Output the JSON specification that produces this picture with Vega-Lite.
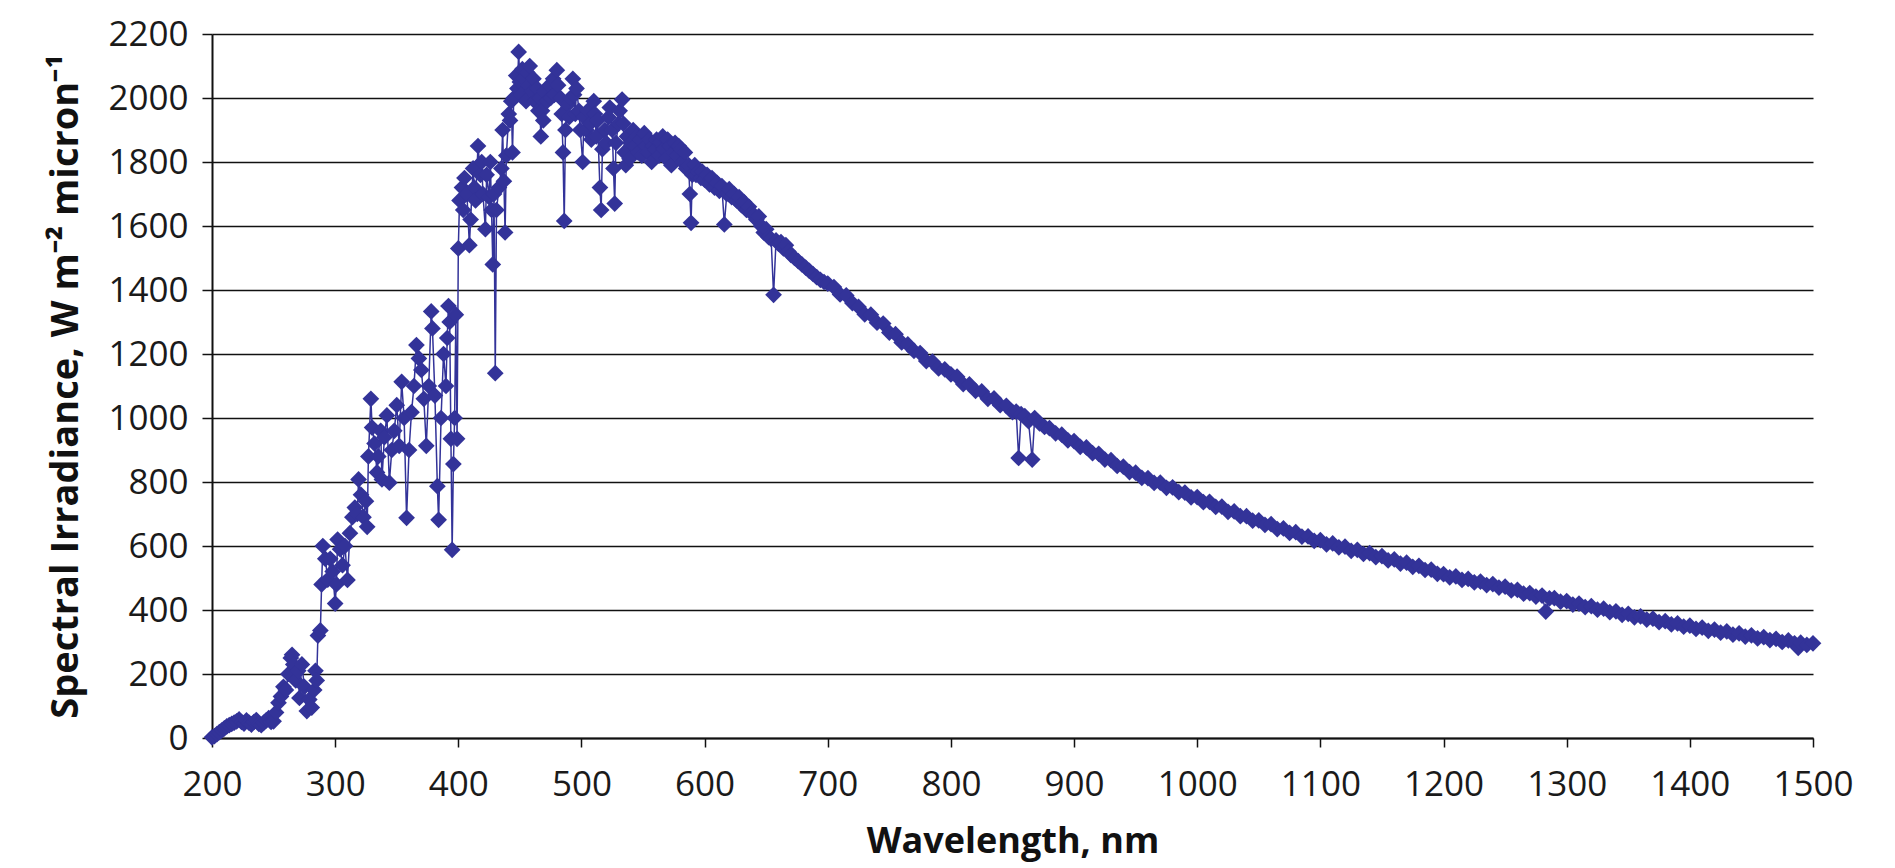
{
"$schema": "https://vega.github.io/schema/vega-lite/v6.json",
"width": 1601,
"height": 704,
"autosize": {"type": "none"},
"padding": {"left": 212, "top": 34, "right": 82, "bottom": 130},
"background": "white",
"config": {"view": {"stroke": null}, "font": "Open Sans"},
"data": {"values": [
{"wl":200,"irr":2},{"wl":202,"irr":6},{"wl":204,"irr":12},{"wl":206,"irr":18},{"wl":208,"irr":24},{"wl":210,"irr":30},{"wl":212,"irr":36},{"wl":214,"irr":40},{"wl":216,"irr":44},{"wl":218,"irr":48},{"wl":220,"irr":52},{"wl":222,"irr":58},{"wl":224,"irr":50},{"wl":226,"irr":45},{"wl":228,"irr":55},{"wl":230,"irr":48},{"wl":232,"irr":42},{"wl":234,"irr":50},{"wl":236,"irr":56},{"wl":238,"irr":44},{"wl":240,"irr":40},{"wl":242,"irr":48},{"wl":244,"irr":55},{"wl":246,"irr":62},{"wl":248,"irr":50},{"wl":250,"irr":52},{"wl":252,"irr":80},{"wl":254,"irr":110},{"wl":256,"irr":130},{"wl":258,"irr":160},{"wl":260,"irr":150},{"wl":262,"irr":200},{"wl":264,"irr":250},{"wl":265,"irr":260},{"wl":266,"irr":230},{"wl":268,"irr":180},{"wl":270,"irr":210},{"wl":271,"irr":125},{"wl":273,"irr":230},{"wl":275,"irr":160},{"wl":277,"irr":84},{"wl":279,"irr":120},{"wl":281,"irr":95},{"wl":283,"irr":150},{"wl":284,"irr":210},{"wl":285,"irr":180},{"wl":286,"irr":320},{"wl":288,"irr":336},{"wl":289,"irr":480},{"wl":290,"irr":600},{"wl":292,"irr":560},{"wl":294,"irr":495},{"wl":296,"irr":560},{"wl":298,"irr":520},{"wl":300,"irr":420},{"wl":301,"irr":480},{"wl":302,"irr":620},{"wl":304,"irr":590},{"wl":306,"irr":540},{"wl":308,"irr":600},{"wl":310,"irr":494},{"wl":312,"irr":640},{"wl":314,"irr":690},{"wl":316,"irr":720},{"wl":318,"irr":700},{"wl":319,"irr":808},{"wl":321,"irr":760},{"wl":323,"irr":690},{"wl":325,"irr":740},{"wl":326,"irr":660},{"wl":327,"irr":880},{"wl":329,"irr":1060},{"wl":330,"irr":970},{"wl":332,"irr":920},{"wl":334,"irr":830},{"wl":335,"irr":880},{"wl":337,"irr":960},{"wl":338,"irr":808},{"wl":340,"irr":940},{"wl":342,"irr":1008},{"wl":344,"irr":798},{"wl":346,"irr":900},{"wl":348,"irr":960},{"wl":350,"irr":1040},{"wl":352,"irr":913},{"wl":354,"irr":1113},{"wl":356,"irr":1000},{"wl":358,"irr":688},{"wl":360,"irr":900},{"wl":362,"irr":1018},{"wl":364,"irr":1100},{"wl":366,"irr":1228},{"wl":368,"irr":1186},{"wl":370,"irr":1150},{"wl":372,"irr":1060},{"wl":374,"irr":913},{"wl":376,"irr":1100},{"wl":378,"irr":1333},{"wl":379,"irr":1280},{"wl":381,"irr":1070},{"wl":383,"irr":787},{"wl":384,"irr":682},{"wl":386,"irr":1000},{"wl":388,"irr":1200},{"wl":390,"irr":1100},{"wl":391,"irr":1250},{"wl":392,"irr":1350},{"wl":393,"irr":1300},{"wl":394,"irr":935},{"wl":395,"irr":588},{"wl":396,"irr":856},{"wl":397,"irr":1000},{"wl":398,"irr":1323},{"wl":399,"irr":935},
{"wl":400,"irr":1530},{"wl":401,"irr":1680},{"wl":403,"irr":1720},{"wl":404,"irr":1650},{"wl":405,"irr":1750},{"wl":407,"irr":1700},{"wl":409,"irr":1540},{"wl":410,"irr":1620},{"wl":412,"irr":1780},{"wl":413,"irr":1720},{"wl":414,"irr":1680},{"wl":416,"irr":1850},{"wl":418,"irr":1760},{"wl":419,"irr":1800},{"wl":420,"irr":1700},{"wl":422,"irr":1590},{"wl":423,"irr":1760},{"wl":425,"irr":1690},{"wl":426,"irr":1800},{"wl":427,"irr":1650},{"wl":428,"irr":1480},{"wl":429,"irr":1700},{"wl":430,"irr":1140},{"wl":431,"irr":1650},{"wl":433,"irr":1720},{"wl":435,"irr":1780},{"wl":436,"irr":1900},{"wl":437,"irr":1740},{"wl":438,"irr":1580},{"wl":439,"irr":1820},{"wl":441,"irr":1950},{"wl":442,"irr":1930},{"wl":443,"irr":1990},{"wl":444,"irr":1830},{"wl":445,"irr":2000},{"wl":447,"irr":2070},{"wl":448,"irr":2030},{"wl":449,"irr":2144},{"wl":450,"irr":2050},{"wl":451,"irr":2010},{"wl":452,"irr":2090},{"wl":453,"irr":2060},{"wl":455,"irr":1990},{"wl":456,"irr":2080},{"wl":457,"irr":2040},{"wl":458,"irr":2100},{"wl":460,"irr":2020},{"wl":461,"irr":2060},{"wl":462,"irr":1990},{"wl":464,"irr":2030},{"wl":465,"irr":1960},{"wl":466,"irr":2000},{"wl":467,"irr":1880},{"wl":468,"irr":1960},{"wl":469,"irr":1930},{"wl":470,"irr":2020},{"wl":472,"irr":1990},{"wl":474,"irr":2040},{"wl":475,"irr":2000},{"wl":477,"irr":2060},{"wl":478,"irr":2010},{"wl":480,"irr":2087},{"wl":481,"irr":2040},{"wl":483,"irr":2000},{"wl":484,"irr":1950},{"wl":485,"irr":1830},{"wl":486,"irr":1616},{"wl":487,"irr":1900},{"wl":489,"irr":1980},{"wl":490,"irr":1940},{"wl":491,"irr":2000},{"wl":493,"irr":2060},{"wl":494,"irr":2010},{"wl":495,"irr":1950},{"wl":496,"irr":2030},{"wl":498,"irr":1960},{"wl":499,"irr":1900},{"wl":501,"irr":1800},{"wl":502,"irr":1940},{"wl":504,"irr":1900},{"wl":505,"irr":1960},{"wl":507,"irr":1920},{"wl":508,"irr":1870},{"wl":510,"irr":1990},{"wl":511,"irr":1950},{"wl":512,"irr":1880},{"wl":513,"irr":1930},{"wl":515,"irr":1720},{"wl":516,"irr":1650},{"wl":517,"irr":1840},{"wl":519,"irr":1900},{"wl":520,"irr":1860},{"wl":522,"irr":1940},{"wl":523,"irr":1970},{"wl":525,"irr":1900},{"wl":526,"irr":1780},{"wl":527,"irr":1670},{"wl":528,"irr":1860},{"wl":530,"irr":1920},{"wl":531,"irr":1960},{"wl":533,"irr":1995},{"wl":534,"irr":1920},{"wl":535,"irr":1830},{"wl":536,"irr":1790},{"wl":537,"irr":1880},{"wl":539,"irr":1810},{"wl":540,"irr":1860},{"wl":542,"irr":1900},{"wl":543,"irr":1850},{"wl":545,"irr":1880},{"wl":546,"irr":1830},{"wl":548,"irr":1870},{"wl":549,"irr":1820},{"wl":551,"irr":1890},{"wl":552,"irr":1850},{"wl":554,"irr":1830},{"wl":555,"irr":1870},{"wl":557,"irr":1800},{"wl":558,"irr":1850},{"wl":560,"irr":1840},{"wl":561,"irr":1870},{"wl":563,"irr":1820},{"wl":564,"irr":1860},{"wl":566,"irr":1880},{"wl":567,"irr":1840},{"wl":569,"irr":1810},{"wl":570,"irr":1870},{"wl":572,"irr":1850},{"wl":573,"irr":1790},{"wl":575,"irr":1830},{"wl":576,"irr":1860},{"wl":578,"irr":1820},{"wl":579,"irr":1850},{"wl":581,"irr":1840},{"wl":582,"irr":1800},{"wl":584,"irr":1830},{"wl":585,"irr":1780},{"wl":587,"irr":1790},{"wl":588,"irr":1700},{"wl":589,"irr":1610},{"wl":590,"irr":1760},{"wl":592,"irr":1790},{"wl":593,"irr":1760},{"wl":595,"irr":1770},{"wl":597,"irr":1750},{"wl":598,"irr":1770},
{"wl":600,"irr":1745},{"wl":602,"irr":1760},{"wl":604,"irr":1730},{"wl":606,"irr":1750},{"wl":608,"irr":1720},{"wl":610,"irr":1735},{"wl":612,"irr":1710},{"wl":614,"irr":1725},{"wl":616,"irr":1605},{"wl":618,"irr":1700},{"wl":620,"irr":1715},{"wl":622,"irr":1690},{"wl":624,"irr":1700},{"wl":626,"irr":1680},{"wl":628,"irr":1690},{"wl":630,"irr":1665},{"wl":632,"irr":1675},{"wl":634,"irr":1650},{"wl":636,"irr":1660},{"wl":638,"irr":1640},{"wl":640,"irr":1635},{"wl":642,"irr":1620},{"wl":644,"irr":1630},{"wl":646,"irr":1600},{"wl":648,"irr":1580},{"wl":650,"irr":1590},{"wl":652,"irr":1565},{"wl":654,"irr":1560},{"wl":656,"irr":1385},{"wl":658,"irr":1555},{"wl":660,"irr":1545},{"wl":662,"irr":1550},{"wl":664,"irr":1530},{"wl":666,"irr":1540},{"wl":668,"irr":1520},{"wl":670,"irr":1510},{"wl":673,"irr":1500},{"wl":676,"irr":1490},{"wl":679,"irr":1480},{"wl":682,"irr":1470},{"wl":685,"irr":1460},{"wl":688,"irr":1450},{"wl":691,"irr":1440},{"wl":694,"irr":1432},{"wl":697,"irr":1425},{"wl":700,"irr":1420},
{"wl":705,"irr":1409},{"wl":710,"irr":1386},{"wl":715,"irr":1383},{"wl":720,"irr":1359},{"wl":725,"irr":1347},{"wl":730,"irr":1324},{"wl":735,"irr":1323},{"wl":740,"irr":1298},{"wl":745,"irr":1295},{"wl":750,"irr":1267},{"wl":755,"irr":1262},{"wl":760,"irr":1236},{"wl":765,"irr":1230},{"wl":770,"irr":1210},{"wl":775,"irr":1203},{"wl":780,"irr":1178},{"wl":785,"irr":1176},{"wl":790,"irr":1155},{"wl":795,"irr":1152},{"wl":800,"irr":1136},{"wl":805,"irr":1129},{"wl":810,"irr":1106},{"wl":815,"irr":1105},{"wl":820,"irr":1085},{"wl":825,"irr":1083},{"wl":830,"irr":1060},{"wl":835,"irr":1061},{"wl":840,"irr":1040},{"wl":845,"irr":1038},{"wl":850,"irr":1018},{"wl":853,"irr":1020},{"wl":855,"irr":875},{"wl":857,"irr":1012},{"wl":860,"irr":1006},{"wl":863,"irr":990},{"wl":866,"irr":870},{"wl":868,"irr":1000},{"wl":872,"irr":983},{"wl":876,"irr":972},{"wl":880,"irr":968},{"wl":885,"irr":952},{"wl":890,"irr":948},{"wl":895,"irr":930},{"wl":900,"irr":928},{"wl":905,"irr":910},{"wl":910,"irr":908},{"wl":915,"irr":890},{"wl":920,"irr":888},{"wl":925,"irr":870},{"wl":930,"irr":868},{"wl":935,"irr":850},{"wl":940,"irr":848},{"wl":945,"irr":831},{"wl":950,"irr":829},{"wl":955,"irr":813},{"wl":960,"irr":812},{"wl":965,"irr":797},{"wl":970,"irr":798},{"wl":975,"irr":782},{"wl":980,"irr":783},{"wl":985,"irr":768},{"wl":990,"irr":767},{"wl":995,"irr":752},{"wl":1000,"irr":753},
{"wl":1005,"irr":737},{"wl":1010,"irr":738},{"wl":1015,"irr":722},{"wl":1020,"irr":723},{"wl":1025,"irr":707},{"wl":1030,"irr":708},{"wl":1035,"irr":693},{"wl":1040,"irr":693},{"wl":1045,"irr":679},{"wl":1050,"irr":680},{"wl":1055,"irr":666},{"wl":1060,"irr":668},{"wl":1065,"irr":653},{"wl":1070,"irr":655},{"wl":1075,"irr":641},{"wl":1080,"irr":643},{"wl":1085,"irr":629},{"wl":1090,"irr":630},{"wl":1095,"irr":616},{"wl":1100,"irr":618},{"wl":1105,"irr":605},{"wl":1110,"irr":608},{"wl":1115,"irr":596},{"wl":1120,"irr":598},{"wl":1125,"irr":585},{"wl":1130,"irr":588},{"wl":1135,"irr":575},{"wl":1140,"irr":578},{"wl":1145,"irr":565},{"wl":1150,"irr":568},{"wl":1155,"irr":555},{"wl":1160,"irr":558},{"wl":1165,"irr":545},{"wl":1170,"irr":548},{"wl":1175,"irr":535},{"wl":1180,"irr":538},{"wl":1185,"irr":525},{"wl":1190,"irr":526},{"wl":1195,"irr":513},{"wl":1200,"irr":512},{"wl":1205,"irr":502},{"wl":1210,"irr":505},{"wl":1215,"irr":494},{"wl":1220,"irr":497},{"wl":1225,"irr":486},{"wl":1230,"irr":489},{"wl":1235,"irr":478},{"wl":1240,"irr":481},{"wl":1245,"irr":470},{"wl":1250,"irr":473},{"wl":1255,"irr":461},{"wl":1260,"irr":463},{"wl":1265,"irr":451},{"wl":1270,"irr":453},{"wl":1275,"irr":442},{"wl":1280,"irr":445},{"wl":1283,"irr":395},{"wl":1286,"irr":436},{"wl":1290,"irr":437},{"wl":1295,"irr":426},{"wl":1300,"irr":428},{"wl":1305,"irr":417},{"wl":1310,"irr":420},{"wl":1315,"irr":409},{"wl":1320,"irr":412},{"wl":1325,"irr":401},{"wl":1330,"irr":404},{"wl":1335,"irr":393},{"wl":1340,"irr":396},{"wl":1345,"irr":385},{"wl":1350,"irr":388},{"wl":1355,"irr":377},{"wl":1360,"irr":380},{"wl":1365,"irr":370},{"wl":1370,"irr":373},{"wl":1375,"irr":362},{"wl":1380,"irr":365},{"wl":1385,"irr":355},{"wl":1390,"irr":358},{"wl":1395,"irr":348},{"wl":1400,"irr":351},{"wl":1405,"irr":341},{"wl":1410,"irr":345},{"wl":1415,"irr":335},{"wl":1420,"irr":339},{"wl":1425,"irr":329},{"wl":1430,"irr":333},{"wl":1435,"irr":323},{"wl":1440,"irr":327},{"wl":1445,"irr":317},{"wl":1450,"irr":321},{"wl":1455,"irr":311},{"wl":1460,"irr":315},{"wl":1465,"irr":306},{"wl":1470,"irr":310},{"wl":1475,"irr":300},{"wl":1480,"irr":305},{"wl":1485,"irr":296},{"wl":1488,"irr":282},{"wl":1490,"irr":298},{"wl":1495,"irr":291},{"wl":1500,"irr":296}
]},
"encoding": {
  "x": {"field": "wl", "type": "quantitative",
    "scale": {"domain": [200, 1500], "nice": false, "zero": false},
    "axis": {"title": "Wavelength, nm", "format": "d", "values": [200,300,400,500,600,700,800,900,1000,1100,1200,1300,1400,1500],
      "grid": false, "domainColor": "#111111", "domainWidth": 2, "tickColor": "#111111", "tickWidth": 1.5, "tickSize": 9,
      "labelFont": "Open Sans", "labelFontSize": 35, "labelColor": "#1a1a1a", "labelPadding": 20, "labelFlush": false, "labelOverlap": false,
      "titleFont": "Open Sans", "titleFontSize": 36, "titleFontWeight": "bold", "titleColor": "#111111", "titlePadding": 22}},
  "y": {"field": "irr", "type": "quantitative",
    "scale": {"domain": [0, 2200], "nice": false},
    "axis": {"title": "Spectral Irradiance, W m⁻² micron⁻¹", "format": "d", "values": [0,200,400,600,800,1000,1200,1400,1600,1800,2000,2200],
      "grid": true, "gridColor": "#111111", "gridWidth": 1.5, "gridOpacity": 1,
      "domainColor": "#111111", "domainWidth": 2, "tickColor": "#111111", "tickWidth": 1.5, "tickSize": 10,
      "labelFont": "Open Sans", "labelFontSize": 35, "labelColor": "#1a1a1a", "labelPadding": 14, "labelOverlap": false,
      "titleFont": "Open Sans", "titleFontSize": 38, "titleFontWeight": "bold", "titleColor": "#111111", "titlePadding": 22}}
},
"layer": [
  {"mark": {"type": "line", "color": "#333399", "strokeWidth": 1.5}},
  {"mark": {"type": "point", "shape": "diamond", "filled": true, "size": 280, "color": "#333399", "opacity": 1}}
]
}
